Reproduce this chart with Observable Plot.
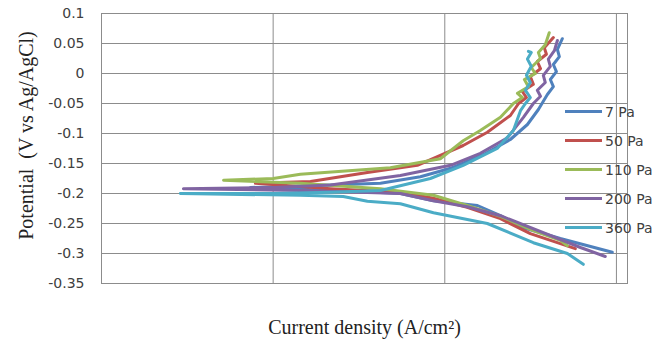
<!DOCTYPE html>
<html>
<head>
<meta charset="utf-8">
<script src="https://cdn.jsdelivr.net/npm/d3@7"></script>
<script src="https://cdn.jsdelivr.net/npm/@observablehq/plot@0.6"></script>
<style>
  body { margin: 0; background: #fff; }
  #wrap { position: relative; width: 670px; height: 348px; }
  .legend { position: absolute; left: 565px; top: 97px; font-family: "DejaVu Sans", sans-serif; font-size: 14px; color: #404040; }
  .item { display: flex; align-items: center; height: 29px; }
  .swatch { width: 37px; height: 3px; margin-right: 3px; }
</style>
</head>
<body>
<div id="wrap"></div>
<script>
// Series names and colours
const seriesNames = ["7 Pa", "50 Pa", "110 Pa", "200 Pa", "360 Pa"];
const seriesColors = ["#4F81BD", "#C0504D", "#9BBB59", "#8064A2", "#4BACC6"];

// Axis ticks
const xTicks = [1e-8, 1e-7, 1e-6, 1e-5];
const xTickLabels = ["1E-08", "0.0000001", "0.000001", "0.00001"];
const yTicks = [0.1, 0.05, 0, -0.05, -0.1, -0.15, -0.2, -0.25, -0.3, -0.35];
const yTickLabels = ["0.1", "0.05", "0", "-0.05", "-0.1", "-0.15", "-0.2", "-0.25", "-0.3", "-0.35"];

// 7 Pa
const current7 = [9.46e-6, 4.71e-6, 2.87e-6, 2.11e-6, 1.55e-6, 8.59e-7, 5.51e-7, 2.82e-7, 1.44e-7, 7.38e-8,
  2.16e-7, 4.22e-7, 7.21e-7, 1.08e-6, 1.68e-6, 2.41e-6, 3.03e-6, 3.51e-6, 3.96e-6,
  4.29e-6, 4.12e-6, 4.47e-6, 4.29e-6, 4.65e-6, 4.53e-6, 4.84e-6];
const potential7 = [-0.298, -0.275, -0.257, -0.237, -0.22, -0.212, -0.2, -0.196, -0.193, -0.19,
  -0.186, -0.183, -0.172, -0.158, -0.135, -0.11, -0.085, -0.06, -0.035,
  -0.022, -0.01, 0.003, 0.015, 0.028, 0.04, 0.058];

// 50 Pa
const current50 = [5.76e-6, 3.15e-6, 2.11e-6, 1.35e-6, 8.59e-7, 5.51e-7, 2.16e-7, 7.88e-8,
  1.65e-7, 3.54e-7, 6.92e-7, 1.28e-6, 1.77e-6, 2.41e-6, 2.69e-6,
  2.99e-6, 2.83e-6, 3.28e-6, 3.15e-6, 3.61e-6, 3.46e-6, 3.91e-6, 3.80e-6, 4.29e-6];
const potential50 = [-0.292, -0.267, -0.242, -0.223, -0.208, -0.198, -0.192, -0.183,
  -0.18, -0.165, -0.153, -0.12, -0.098, -0.07, -0.05,
  -0.04, -0.03, -0.018, -0.005, 0.008, 0.02, 0.032, 0.043, 0.06];

// 110 Pa
const current110 = [5.18e-6, 4.71e-6, 3.28e-6, 2.11e-6, 1.35e-6, 8.59e-7, 4.22e-7, 1.44e-7, 5.14e-8,
  1.0e-7, 1.44e-7, 4.82e-7, 9.42e-7, 1.28e-6, 1.61e-6, 2.11e-6, 2.51e-6,
  2.83e-6, 2.65e-6, 3.07e-6, 2.91e-6, 3.37e-6, 3.19e-6, 3.61e-6, 3.51e-6, 3.85e-6, 4.06e-6];
const potential110 = [-0.287, -0.278, -0.262, -0.238, -0.22, -0.203, -0.192, -0.183, -0.178,
  -0.175, -0.168, -0.157, -0.142, -0.112, -0.095, -0.073, -0.05,
  -0.04, -0.033, -0.022, -0.01, 0.0, 0.01, 0.025, 0.035, 0.048, 0.068];

// 200 Pa
const current200 = [8.61e-6, 6.17e-6, 4.12e-6, 2.11e-6, 1.35e-6, 8.59e-7, 5.51e-7, 1.44e-7, 3.0e-8,
  1.0e-7, 2.16e-7, 5.51e-7, 1.08e-6, 1.61e-6, 2.32e-6, 2.87e-6, 3.28e-6,
  3.61e-6, 3.46e-6, 3.85e-6, 3.75e-6, 4.12e-6, 4.01e-6, 4.35e-6, 4.53e-6];
const potential200 = [-0.305, -0.29, -0.27, -0.237, -0.222, -0.212, -0.2, -0.195, -0.192,
  -0.19, -0.186, -0.17, -0.153, -0.133, -0.107, -0.073, -0.05,
  -0.038, -0.028, -0.015, -0.003, 0.012, 0.024, 0.038, 0.055];

// 360 Pa
const current360 = [6.41e-6, 5.18e-6, 3.28e-6, 1.77e-6, 8.59e-7, 5.51e-7, 3.54e-7, 2.56e-7, 1.44e-7, 2.88e-8,
  1.0e-7, 2.16e-7, 4.22e-7, 8.24e-7, 1.28e-6, 2.02e-6, 2.51e-6, 2.76e-6, 2.95e-6,
  3.15e-6, 2.95e-6, 3.15e-6, 2.99e-6, 3.19e-6, 3.03e-6, 3.19e-6, 3.07e-6];
const potential360 = [-0.318, -0.30, -0.282, -0.25, -0.232, -0.217, -0.213, -0.205, -0.203, -0.2,
  -0.2, -0.198, -0.195, -0.175, -0.153, -0.125, -0.095, -0.062, -0.05,
  -0.04, -0.028, -0.015, -0.003, 0.012, 0.024, 0.035, 0.037];

const seriesCurrents = [current7, current50, current110, current200, current360];
const seriesPotentials = [potential7, potential50, potential110, potential200, potential360];

const rows = [];
seriesNames.forEach((name, s) => {
  seriesCurrents[s].forEach((c, i) => rows.push({series: name, current: c, potential: seriesPotentials[s][i]}));
});

const gridColor = "#8c8c8c";
const chart = Plot.plot({
  width: 670,
  height: 348,
  marginLeft: 101,
  marginRight: 43,
  marginTop: 13,
  marginBottom: 65,
  style: {background: "white"},
  x: {type: "log", domain: [1e-8, 1.16e-5]},
  y: {domain: [-0.35, 0.1]},
  color: {domain: seriesNames, range: seriesColors},
  marks: [
    Plot.gridY(yTicks, {stroke: gridColor, strokeOpacity: 1, strokeWidth: 1}),
    Plot.gridX(xTicks, {stroke: gridColor, strokeOpacity: 1, strokeWidth: 1}),
    Plot.frame({stroke: gridColor, strokeWidth: 1}),
    Plot.axisY(yTicks, {tickSize: 0, tickPadding: 17, tickFormat: (d, i) => yTickLabels[i],
      fontFamily: "DejaVu Sans", fontSize: 14, fill: "#404040", label: null}),
    Plot.axisX(xTicks, {tickSize: 0, tickPadding: 15, tickFormat: (d, i) => xTickLabels[i],
      fontFamily: "DejaVu Sans", fontSize: 14, fill: "#404040", label: null}),
    Plot.line(rows, {x: "current", y: "potential", z: "series", stroke: "series",
      strokeWidth: 3, strokeLinejoin: "round", strokeLinecap: "round", clip: true}),
    Plot.text(["Current density (A/cm²)"], {frameAnchor: "bottom", dy: 50, fontFamily: "Liberation Serif",
      fontSize: 20, fill: "#222", text: d => d}),
    Plot.text(["Potential  (V vs Ag/AgCl)"], {frameAnchor: "left", dx: -75, dy: -13, rotate: -90,
      textAnchor: "middle", fontFamily: "Liberation Serif", fontSize: 20, fill: "#222", text: d => d})
  ]
});

const wrap = document.getElementById("wrap");
wrap.appendChild(chart);
const legend = document.createElement("div");
legend.className = "legend";
seriesNames.forEach((name, i) => {
  const item = document.createElement("div");
  item.className = "item";
  const sw = document.createElement("span");
  sw.className = "swatch";
  sw.style.background = seriesColors[i];
  const label = document.createElement("span");
  label.textContent = name;
  item.appendChild(sw);
  item.appendChild(label);
  legend.appendChild(item);
});
wrap.appendChild(legend);
</script>
</body>
</html>
